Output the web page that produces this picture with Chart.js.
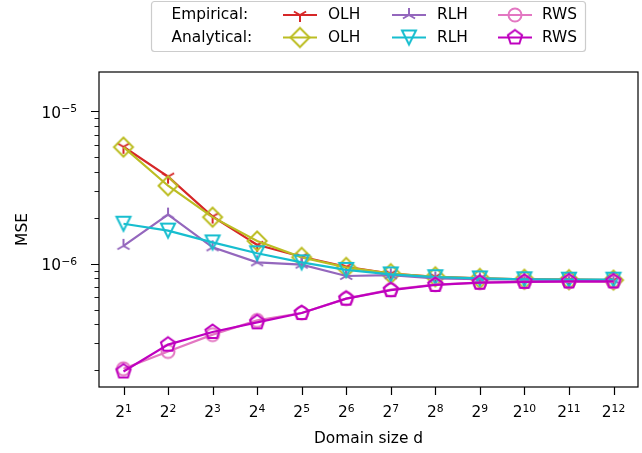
<!DOCTYPE html>
<html>
<head>
<meta charset="utf-8">
<script src="https://cdn.jsdelivr.net/npm/chart.js@4/dist/chart.umd.min.js"></script>
<style>
  html, body { margin: 0; background: #fff; }
  #wrap { width: 642px; height: 453px; }
</style>
</head>
<body>
<div id="wrap"><canvas id="c" width="642" height="453"></canvas></div>
<script>
// 横軸: 2^1 .. 2^12 の指数
const exps = [1, 2, 3, 4, 5, 6, 7, 8, 9, 10, 11, 12];

// MSE
const olhEmp = [5.86e-6, 3.73e-6, 2.04e-6, 1.33e-6, 1.11e-6, 0.955e-6, 0.86e-6, 0.82e-6, 0.80e-6, 0.79e-6, 0.785e-6, 0.78e-6];
const olhAna = [5.83e-6, 3.25e-6, 2.02e-6, 1.41e-6, 1.10e-6, 0.945e-6, 0.86e-6, 0.82e-6, 0.80e-6, 0.79e-6, 0.785e-6, 0.78e-6];
const rlhEmp = [1.31e-6, 2.10e-6, 1.28e-6, 1.02e-6, 0.985e-6, 0.83e-6, 0.84e-6, 0.80e-6, 0.79e-6, 0.785e-6, 0.78e-6, 0.78e-6];
const rlhAna = [1.83e-6, 1.65e-6, 1.38e-6, 1.17e-6, 1.02e-6, 0.91e-6, 0.85e-6, 0.815e-6, 0.80e-6, 0.79e-6, 0.785e-6, 0.785e-6];
const rwsEmp = [2.04e-7, 2.65e-7, 3.42e-7, 4.24e-7, 4.74e-7, 5.89e-7, 6.75e-7, 7.28e-7, 7.5e-7, 7.6e-7, 7.6e-7, 7.6e-7];
const rwsAna = [1.96e-7, 2.94e-7, 3.56e-7, 4.12e-7, 4.74e-7, 5.89e-7, 6.70e-7, 7.25e-7, 7.5e-7, 7.6e-7, 7.65e-7, 7.65e-7];

// 目盛り
const yMajor = [1e-6, 1e-5];
const yMajorExp = ['\u22126', '\u22125'];
const yMinor = [2e-7, 3e-7, 4e-7, 5e-7, 6e-7, 7e-7, 8e-7, 9e-7,
                2e-6, 3e-6, 4e-6, 5e-6, 6e-6, 7e-6, 8e-6, 9e-6];

const FONT = '"DejaVu Sans", sans-serif';
const FS = 15.4;

// matplotlib 風マーカーを canvas で作る
function marker(kind, color) {
  const s = 26, c = s / 2;
  const cv = document.createElement('canvas');
  cv.width = s; cv.height = s;
  const g = cv.getContext('2d');
  g.strokeStyle = color;
  g.lineWidth = 2;
  g.beginPath();
  if (kind === 'diamond') {
    const r = 9.5;
    g.moveTo(c, c - r); g.lineTo(c + r, c); g.lineTo(c, c + r); g.lineTo(c - r, c); g.closePath();
  } else if (kind === 'vtri') {
    const r = 7;
    g.moveTo(c - r, c - r); g.lineTo(c + r, c - r); g.lineTo(c, c + r); g.closePath();
  } else if (kind === 'circle') {
    g.arc(c, c, 6.5, 0, Math.PI * 2);
  } else if (kind === 'pentagon') {
    const r = 7.5;
    for (let i = 0; i < 5; i++) {
      const a = -Math.PI / 2 + i * 2 * Math.PI / 5;
      const px = c + r * Math.cos(a), py = c + r * Math.sin(a);
      if (i === 0) g.moveTo(px, py); else g.lineTo(px, py);
    }
    g.closePath();
  } else if (kind === 'tridown') {
    const r = 7;
    g.moveTo(c, c); g.lineTo(c, c + r);
    g.moveTo(c, c); g.lineTo(c - r * 0.866, c - r * 0.5);
    g.moveTo(c, c); g.lineTo(c + r * 0.866, c - r * 0.5);
  } else if (kind === 'triup') {
    const r = 7;
    g.moveTo(c, c); g.lineTo(c, c - r);
    g.moveTo(c, c); g.lineTo(c - r * 0.866, c + r * 0.5);
    g.moveTo(c, c); g.lineTo(c + r * 0.866, c + r * 0.5);
  }
  g.stroke();
  return cv;
}

const series = [
  { label: 'OLH', kind: 'tridown',  color: '#d62728', data: olhEmp, row: 0, col: 0, order: 6 },
  { label: 'OLH', kind: 'diamond',  color: '#bcbd22', data: olhAna, row: 1, col: 0, order: 5 },
  { label: 'RLH', kind: 'triup',    color: '#9467bd', data: rlhEmp, row: 0, col: 1, order: 4 },
  { label: 'RLH', kind: 'vtri',     color: '#17becf', data: rlhAna, row: 1, col: 1, order: 3 },
  { label: 'RWS', kind: 'circle',   color: '#e377c2', data: rwsEmp, row: 0, col: 2, order: 2 },
  { label: 'RWS', kind: 'pentagon', color: '#bf00bf', data: rwsAna, row: 1, col: 2, order: 1 },
];
series.forEach(s => { s.img = marker(s.kind, s.color); });

function drawSup(ctx, base, sup, x, y, align) {
  ctx.font = FS + 'px ' + FONT;
  const wb = ctx.measureText(base).width;
  ctx.font = (FS * 0.7) + 'px ' + FONT;
  const ws = ctx.measureText(sup).width;
  const total = wb + ws;
  let x0 = align === 'right' ? x - total : x - total / 2;
  ctx.textAlign = 'left';
  ctx.textBaseline = 'alphabetic';
  ctx.font = FS + 'px ' + FONT;
  ctx.fillText(base, x0, y);
  ctx.font = (FS * 0.7) + 'px ' + FONT;
  ctx.fillText(sup, x0 + wb, y - 5.5);
}

// 枠線・目盛り・凡例
const decor = {
  id: 'decor',
  afterDraw(chart) {
    const { ctx, chartArea: a, scales: { x, y } } = chart;
    ctx.save();
    ctx.fillStyle = '#000';
    ctx.strokeStyle = '#000';

    // y 目盛り
    ctx.lineWidth = 1.2;
    ctx.beginPath();
    yMajor.forEach(v => {
      const py = Math.round(y.getPixelForValue(v)) + 0.5;
      ctx.moveTo(a.left - 8, py); ctx.lineTo(a.left, py);
    });
    ctx.stroke();
    ctx.lineWidth = 0.9;
    ctx.beginPath();
    yMinor.forEach(v => {
      const py = Math.round(y.getPixelForValue(v)) + 0.5;
      ctx.moveTo(a.left - 4.5, py); ctx.lineTo(a.left, py);
    });
    ctx.stroke();

    // x 目盛り
    ctx.lineWidth = 1.2;
    ctx.beginPath();
    exps.forEach(e => {
      const px = Math.round(x.getPixelForValue(e)) + 0.5;
      ctx.moveTo(px, a.bottom); ctx.lineTo(px, a.bottom + 8);
    });
    ctx.stroke();

    // 目盛りラベル
    exps.forEach(e => drawSup(ctx, '2', String(e), x.getPixelForValue(e), 417, 'center'));
    yMajor.forEach((v, i) => drawSup(ctx, '10', yMajorExp[i], 77, y.getPixelForValue(v) + 6.5, 'right'));

    // 枠
    ctx.lineWidth = 1.2;
    ctx.strokeRect(a.left, a.top, a.right - a.left, a.bottom - a.top);

    // 凡例
    const bx = 151.5, by = 1.5, bw = 434, bh = 50, r = 3;
    ctx.beginPath();
    ctx.moveTo(bx + r, by);
    ctx.arcTo(bx + bw, by, bx + bw, by + bh, r);
    ctx.arcTo(bx + bw, by + bh, bx, by + bh, r);
    ctx.arcTo(bx, by + bh, bx, by, r);
    ctx.arcTo(bx, by, bx + bw, by, r);
    ctx.closePath();
    ctx.fillStyle = 'rgba(255,255,255,0.8)';
    ctx.fill();
    ctx.strokeStyle = '#cccccc';
    ctx.lineWidth = 1.2;
    ctx.stroke();

    const rowsY = [15, 37.5];
    const lineX = [283, 392, 498];
    const textX = [328, 437, 542];
    ctx.font = FS + 'px ' + FONT;
    ctx.fillStyle = '#000';
    ctx.textBaseline = 'middle';
    ctx.textAlign = 'left';
    ctx.fillText('Empirical:', 171.5, rowsY[0]);
    ctx.fillText('Analytical:', 171.5, rowsY[1]);
    series.forEach(s => {
      const ly = rowsY[s.row], lx = lineX[s.col];
      ctx.strokeStyle = s.color;
      ctx.lineWidth = 2;
      ctx.beginPath();
      ctx.moveTo(lx, ly); ctx.lineTo(lx + 34, ly);
      ctx.stroke();
      ctx.drawImage(s.img, lx + 17 - s.img.width / 2, ly - s.img.height / 2);
      ctx.fillStyle = '#000';
      ctx.fillText(s.label, textX[s.col], ly);
    });
    ctx.restore();
  }
};

new Chart(document.getElementById('c'), {
  type: 'line',
  data: {
    datasets: series.map(s => ({
      label: s.label,
      data: exps.map((e, i) => ({ x: e, y: s.data[i] })),
      borderColor: s.color,
      backgroundColor: s.color,
      borderWidth: 2.2,
      pointStyle: s.img,
      pointRadius: 7,
      tension: 0,
      order: s.order,
    })),
  },
  options: {
    responsive: false,
    animation: false,
    layout: { autoPadding: false, padding: { top: 72, right: 4, left: 0, bottom: 0 } },
    plugins: { legend: { display: false }, tooltip: { enabled: false } },
    scales: {
      x: {
        type: 'linear',
        min: 0.45,
        max: 12.55,
        grid: { display: false },
        border: { display: false },
        ticks: { display: false },
        afterBuildTicks: sc => { sc.ticks = exps.map(v => ({ value: v })); },
        afterFit: sc => { sc.height = 66; sc.paddingLeft = 0; sc.paddingRight = 0; },
        title: {
          display: true, text: 'Domain size d', color: '#000',
          font: { family: FONT, size: FS }, padding: { top: 0, bottom: 5 },
        },
      },
      y: {
        type: 'logarithmic',
        min: 1.549e-7,
        max: 1.815e-5,
        grid: { display: false },
        border: { display: false },
        ticks: { display: false },
        afterFit: sc => { sc.width = 99; sc.paddingTop = 0; sc.paddingBottom = 0; },
        title: {
          display: true, text: 'MSE', color: '#000',
          font: { family: FONT, size: FS }, padding: { top: 14, bottom: 0 },
        },
      },
    },
  },
  plugins: [decor],
});
</script>
</body>
</html>
